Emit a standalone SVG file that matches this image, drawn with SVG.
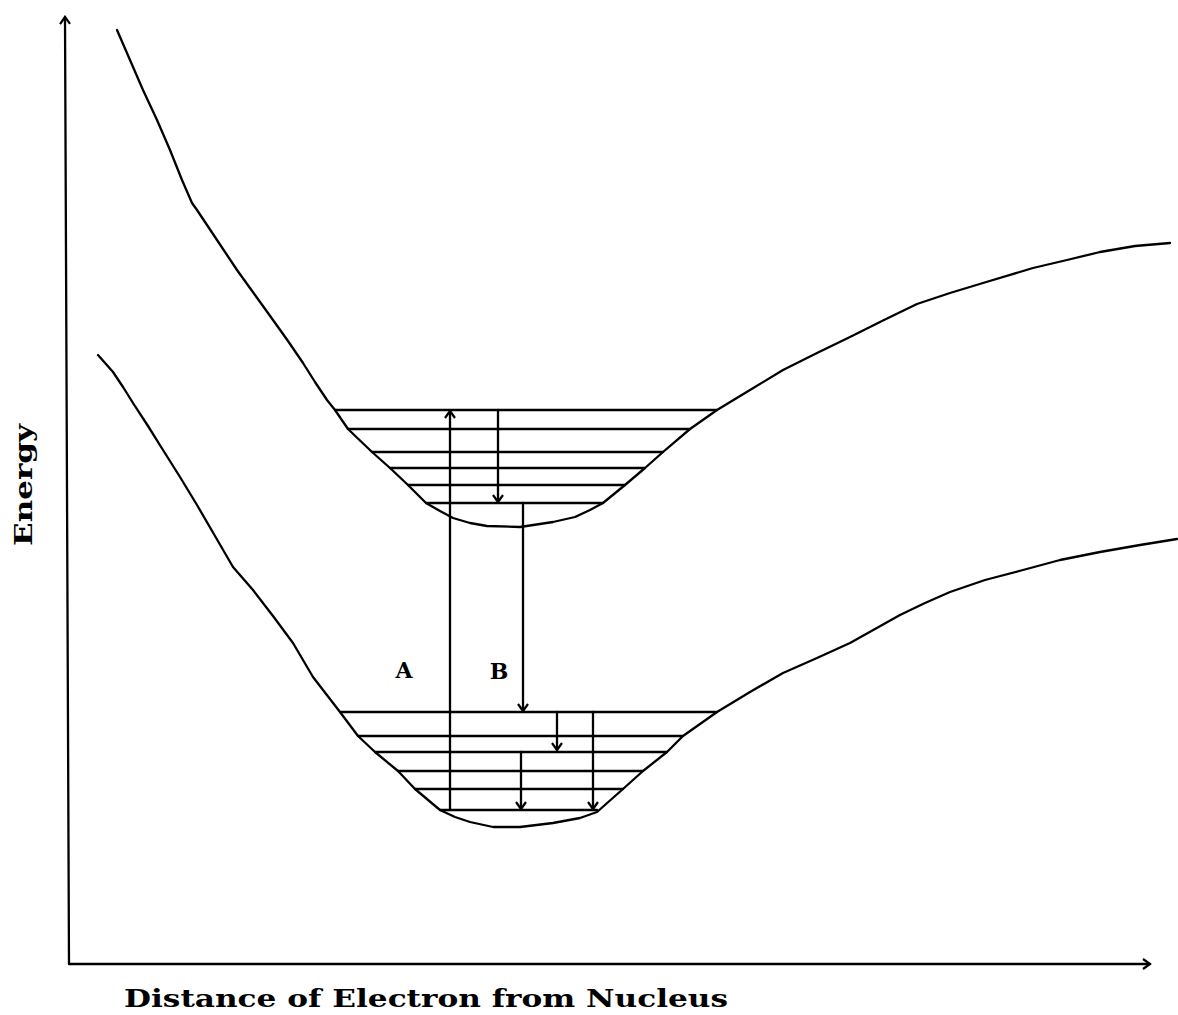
<svg xmlns="http://www.w3.org/2000/svg" width="1178" height="1015" viewBox="0 0 1178 1015">
<style>
.ln{fill:none;stroke:#000;stroke-width:2.3;stroke-linejoin:round;stroke-linecap:round}
.lbl{font-family:"DejaVu Serif","Liberation Serif",serif;font-weight:bold;fill:#000}
</style>
<defs>
<marker id="ah" markerUnits="userSpaceOnUse" markerWidth="14" markerHeight="14" viewBox="-10 -7 12 14" refX="0" refY="0" orient="auto">
<path d="M-7,-5 L0,0 L-7,5" fill="none" stroke="#000" stroke-width="2.2" stroke-linejoin="miter"/>
</marker>
</defs>
<rect width="1178" height="1015" fill="#fff"/>
<g id="axes">
<line class="ln" x1="69" y1="964" x2="65" y2="17" marker-end="url(#ah)"/>
<line class="ln" x1="69" y1="964" x2="1150" y2="964" marker-end="url(#ah)"/>
</g>
<g id="upper-curve">
<polyline class="ln" points="117,30 130,60 143,90 157,120 170,150 182,180 192,203 197,210 217,240 237,270 255,295 273,320 288,341 303,363 315,382 327,400 335,410 348,429 372,452 390,468 408,485 426,503 440,511 453,518 470,523 487,526 520,527 553,522 575,517 590,510 603,503 625,485 645,468 663,452 690,429 717,410 750,390 783,370 817,353 850,337 884,320 917,304 950,293 983,283 1033,268 1067,260 1100,252 1135,246 1170,243"/>
</g>
<g id="upper-levels">
<line class="ln" x1="335" y1="410" x2="717" y2="410"/>
<line class="ln" x1="348" y1="429" x2="690" y2="429"/>
<line class="ln" x1="372" y1="452" x2="663" y2="452"/>
<line class="ln" x1="390" y1="468" x2="645" y2="468"/>
<line class="ln" x1="408" y1="485" x2="625" y2="485"/>
<line class="ln" x1="426" y1="503" x2="603" y2="503"/>
</g>
<g id="lower-curve">
<polyline class="ln" points="98,355 113,372 123,387 133,403 148,426 163,450 180,477 197,505 215,536 233,567 253,590 273,616 293,643 313,677 340,712 358,736 375,752 398,771 415,789 440,810 455,817 470,822 493,827 520,827 553,823 580,818 597,812 623,789 643,771 667,752 683,736 717,712 750,692 783,673 817,658 850,643 875,629 900,615 925,603 950,592 985,580 1023,570 1060,560 1100,552 1140,545 1177,539"/>
</g>
<g id="lower-levels">
<line class="ln" x1="340" y1="712" x2="717" y2="712"/>
<line class="ln" x1="358" y1="736" x2="683" y2="736"/>
<line class="ln" x1="375" y1="752" x2="667" y2="752"/>
<line class="ln" x1="398" y1="771" x2="643" y2="771"/>
<line class="ln" x1="415" y1="789" x2="623" y2="789"/>
<line class="ln" x1="440" y1="810" x2="597" y2="810"/>
</g>
<g id="connectors">
<line class="ln" x1="450" y1="810" x2="450" y2="411" marker-end="url(#ah)"/>
<line class="ln" x1="498" y1="410" x2="498" y2="502" marker-end="url(#ah)"/>
<line class="ln" x1="523" y1="503" x2="523" y2="711" marker-end="url(#ah)"/>
<line class="ln" x1="557" y1="712" x2="557" y2="750" marker-end="url(#ah)"/>
<line class="ln" x1="521" y1="752" x2="521" y2="809" marker-end="url(#ah)"/>
<line class="ln" x1="593" y1="712" x2="593" y2="809" marker-end="url(#ah)"/>
</g>
<g id="label-A"><text class="lbl" x="404" y="678" font-size="22" text-anchor="middle">A</text></g>
<g id="label-B"><text class="lbl" x="499" y="679" font-size="22" text-anchor="middle">B</text></g>
<g id="label-energy"><text class="lbl" font-size="25" text-anchor="middle" textLength="122" lengthAdjust="spacingAndGlyphs" transform="translate(32,485) rotate(-90)">Energy</text></g>
<g id="label-distance"><text class="lbl" x="124" y="1007" font-size="25" textLength="604" lengthAdjust="spacingAndGlyphs">Distance of Electron from Nucleus</text></g>
</svg>
